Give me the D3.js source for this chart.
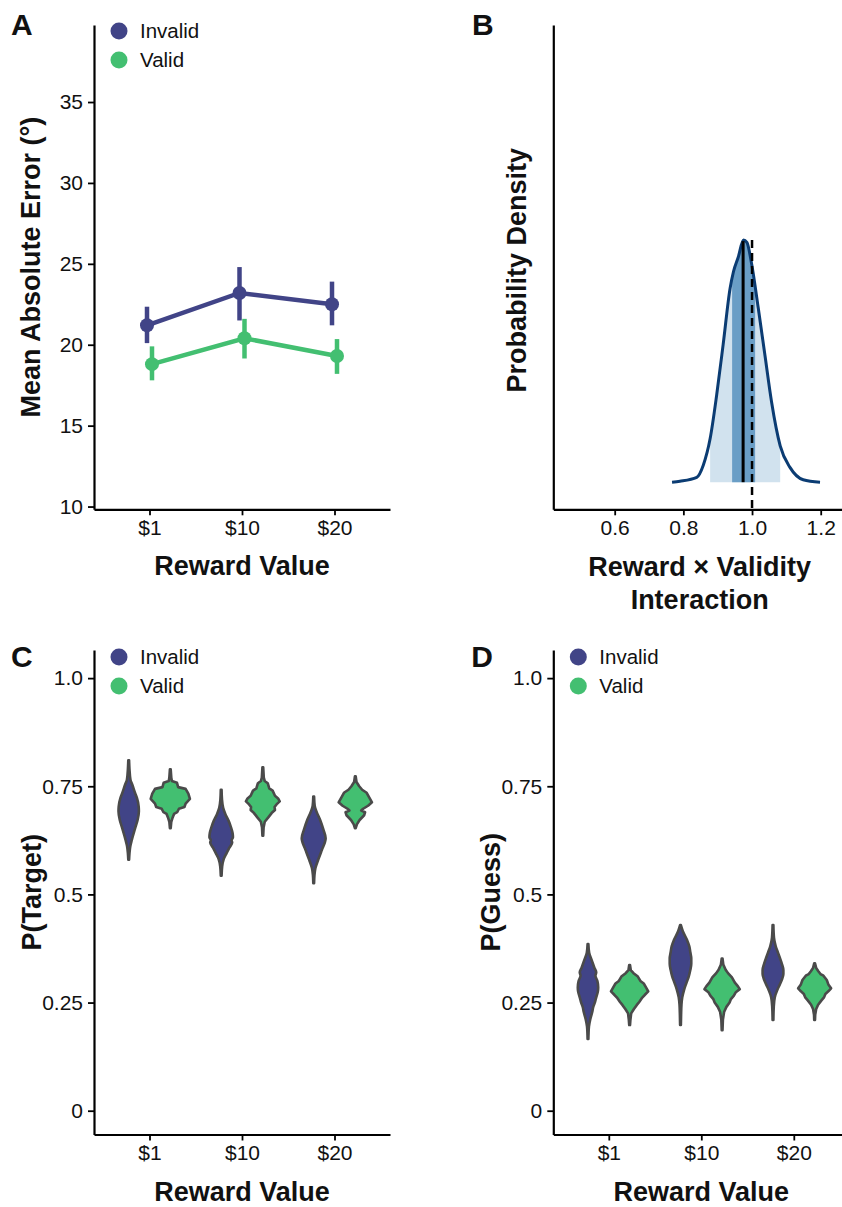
<!DOCTYPE html>
<html><head><meta charset="utf-8">
<script src="https://cdn.jsdelivr.net/npm/d3@7"></script>
<style>
body{margin:0;background:#fff}
svg{display:block}
text{font-family:"Liberation Sans",Arial,Helvetica,sans-serif;fill:#111}
</style>
</head><body>
<svg id="chart" width="842" height="1207"></svg>
<script>
// ---------------- DATA ----------------
const rewardLevels = ["$1", "$10", "$20"];
const validityLevels = ["Invalid", "Valid"];
const validityColors = ["#414487", "#43BF71"];

// Panel A: mean absolute error (deg)
const maeInvalidMean  = [21.2, 23.2, 22.5];
const maeInvalidLower = [20.1, 21.5, 21.2];
const maeInvalidUpper = [22.35, 24.8, 23.9];
const maeValidMean    = [18.8, 20.4, 19.3];
const maeValidLower   = [17.8, 19.15, 18.2];
const maeValidUpper   = [19.9, 21.6, 20.35];
const maeTicks = [10, 15, 20, 25, 30, 35];

// Panel B: posterior density of the interaction
const interactionGrid    = [0.767, 0.790, 0.839, 0.858, 0.878, 0.897, 0.916, 0.936, 0.946, 0.960, 0.975, 0.985, 0.999, 1.018, 1.038, 1.057, 1.082, 1.111, 1.149, 1.198];
const interactionDensity = [0.0, 0.004, 0.02, 0.07, 0.18, 0.36, 0.57, 0.80, 0.87, 0.93, 1.0, 0.99, 0.90, 0.72, 0.52, 0.33, 0.15, 0.06, 0.01, 0.0];
const interactionMedian = 0.974;
const interactionInner = [0.942, 1.009];
const interactionOuter = [0.878, 1.082];
const interactionNull = 1.0;
const interactionTicks = [0.6, 0.8, 1.0, 1.2];

// Panels C & D: violins, [value, relative density]
const probTicks = [0, 0.25, 0.5, 0.75, 1.0];
const probTickLabels = ["0", "0.25", "0.5", "0.75", "1.0"];

const pTargetInvalid1  = [[0.810,0.02],[0.790,0.04],[0.765,0.09],[0.754,0.18],[0.734,0.33],[0.723,0.42],[0.703,0.51],[0.692,0.52],[0.673,0.46],[0.653,0.33],[0.626,0.16],[0.611,0.08],[0.595,0.04],[0.580,0.02]];
const pTargetInvalid10 = [[0.742,0.02],[0.720,0.04],[0.700,0.10],[0.685,0.22],[0.670,0.38],[0.655,0.50],[0.642,0.58],[0.632,0.60],[0.625,0.53],[0.620,0.56],[0.608,0.42],[0.595,0.27],[0.582,0.13],[0.565,0.05],[0.543,0.02]];
const pTargetInvalid20 = [[0.726,0.02],[0.705,0.05],[0.692,0.14],[0.672,0.33],[0.649,0.50],[0.630,0.61],[0.622,0.58],[0.603,0.42],[0.580,0.23],[0.561,0.09],[0.545,0.04],[0.526,0.02]];
const pTargetValid1    = [[0.789,0.02],[0.770,0.05],[0.762,0.08],[0.758,0.34],[0.748,0.40],[0.744,0.78],[0.733,0.92],[0.721,1.00],[0.710,0.78],[0.702,0.72],[0.698,0.44],[0.690,0.35],[0.686,0.19],[0.678,0.12],[0.668,0.05],[0.653,0.02]];
const pTargetValid10   = [[0.794,0.02],[0.770,0.05],[0.762,0.10],[0.757,0.25],[0.745,0.33],[0.740,0.50],[0.728,0.62],[0.722,0.78],[0.715,0.86],[0.708,0.70],[0.702,0.60],[0.695,0.62],[0.688,0.45],[0.678,0.28],[0.668,0.10],[0.655,0.04],[0.636,0.02]];
const pTargetValid20   = [[0.773,0.02],[0.760,0.06],[0.750,0.20],[0.742,0.35],[0.735,0.58],[0.725,0.70],[0.713,0.85],[0.705,0.65],[0.698,0.40],[0.694,0.30],[0.690,0.50],[0.683,0.45],[0.672,0.22],[0.662,0.08],[0.653,0.02]];

const pGuessInvalid1   = [[0.385,0.02],[0.365,0.06],[0.348,0.19],[0.330,0.33],[0.320,0.42],[0.312,0.38],[0.300,0.48],[0.285,0.52],[0.275,0.50],[0.262,0.42],[0.250,0.35],[0.240,0.27],[0.229,0.22],[0.212,0.12],[0.195,0.05],[0.180,0.03],[0.166,0.02]];
const pGuessInvalid10  = [[0.429,0.02],[0.415,0.12],[0.395,0.33],[0.380,0.45],[0.367,0.50],[0.352,0.55],[0.340,0.55],[0.325,0.50],[0.310,0.42],[0.295,0.30],[0.279,0.18],[0.262,0.09],[0.245,0.05],[0.220,0.03],[0.198,0.02]];
const pGuessInvalid20  = [[0.429,0.02],[0.400,0.05],[0.380,0.14],[0.366,0.25],[0.356,0.33],[0.340,0.45],[0.325,0.53],[0.316,0.53],[0.305,0.47],[0.292,0.35],[0.279,0.22],[0.262,0.09],[0.240,0.04],[0.210,0.02]];
const pGuessValid1     = [[0.337,0.02],[0.325,0.06],[0.318,0.20],[0.310,0.42],[0.300,0.55],[0.294,0.72],[0.284,0.85],[0.276,0.95],[0.268,0.78],[0.260,0.62],[0.252,0.50],[0.244,0.36],[0.235,0.22],[0.225,0.08],[0.210,0.04],[0.198,0.02]];
const pGuessValid10    = [[0.352,0.02],[0.338,0.06],[0.326,0.18],[0.318,0.30],[0.308,0.50],[0.296,0.65],[0.288,0.80],[0.281,0.90],[0.274,0.70],[0.266,0.60],[0.258,0.45],[0.250,0.38],[0.240,0.22],[0.228,0.10],[0.210,0.04],[0.186,0.02]];
const pGuessValid20    = [[0.341,0.02],[0.330,0.08],[0.322,0.20],[0.316,0.30],[0.312,0.45],[0.302,0.62],[0.292,0.70],[0.283,0.84],[0.276,0.70],[0.270,0.55],[0.262,0.48],[0.255,0.35],[0.245,0.18],[0.235,0.08],[0.222,0.03],[0.210,0.02]];

// ---------------- DRAW ----------------
const svg = d3.select("#chart");
const FONT_TICK = 21, FONT_TITLE = 27, FONT_LETTER = 30, FONT_LEGEND = 20.5;

function styleAxis(g) {
  g.selectAll(".domain").attr("stroke", "#000").attr("stroke-width", 2.2);
  g.selectAll(".tick line").attr("stroke", "#000").attr("stroke-width", 1.8);
  g.selectAll(".tick text").attr("font-size", FONT_TICK).attr("fill", "#111")
    .style("font-family", '"Liberation Sans",Arial,Helvetica,sans-serif');
}

function panelLetter(txt, x, y) {
  svg.append("text").attr("x", x).attr("y", y).attr("font-size", FONT_LETTER)
    .attr("font-weight", "bold").text(txt);
}

function yTitle(txt, x, yc) {
  svg.append("text").attr("transform", `translate(${x},${yc}) rotate(-90)`)
    .attr("text-anchor", "middle").attr("font-size", FONT_TITLE).attr("font-weight", "bold").text(txt);
}
function xTitle(lines, xc, y, lh) {
  lines.forEach((t, i) => svg.append("text").attr("x", xc).attr("y", y + i * lh)
    .attr("text-anchor", "middle").attr("font-size", FONT_TITLE).attr("font-weight", "bold").text(t));
}
function legend(x, y) {
  validityLevels.forEach((g, i) => {
    svg.append("circle").attr("cx", x).attr("cy", y + i * 29).attr("r", 8.5).attr("fill", validityColors[i]);
    svg.append("text").attr("x", x + 21).attr("y", y + i * 29).attr("dy", "0.36em")
      .attr("font-size", FONT_LEGEND).text(g);
  });
}

// ---- Panel A ----
(function () {
  const L = 94, R = 390, T = 25, B = 509.3;
  const x = d3.scalePoint().domain(rewardLevels).range([L, R]).padding(0.6);
  const y = d3.scaleLinear().domain([9.83, 39.76]).range([B, T]);
  const dodge = d3.scaleBand().domain(validityLevels).range([-0.054 * x.step(), 0.054 * x.step()]);
  const cx = (r, g) => x(r) + dodge(g) + dodge.bandwidth() / 2;

  const ga = svg.append("g").attr("transform", `translate(0,${B})`)
    .call(d3.axisBottom(x).tickSize(6).tickSizeOuter(0).tickPadding(5));
  styleAxis(ga);
  const gy = svg.append("g").attr("transform", `translate(${L},0)`)
    .call(d3.axisLeft(y).tickValues(maeTicks).tickFormat(d3.format("d")).tickSize(6).tickSizeOuter(0).tickPadding(5));
  styleAxis(gy);

  const series = [
    {g: "Invalid", m: maeInvalidMean, lo: maeInvalidLower, hi: maeInvalidUpper, c: validityColors[0]},
    {g: "Valid", m: maeValidMean, lo: maeValidLower, hi: maeValidUpper, c: validityColors[1]}
  ];
  series.forEach(s => {
    const pts = rewardLevels.map((r, i) => ({r, m: s.m[i], lo: s.lo[i], hi: s.hi[i]}));
    svg.append("path").datum(pts).attr("fill", "none").attr("stroke", s.c).attr("stroke-width", 4.5)
      .attr("d", d3.line().x(d => cx(d.r, s.g)).y(d => y(d.m)));
    svg.selectAll(null).data(pts).enter().append("line")
      .attr("x1", d => cx(d.r, s.g)).attr("x2", d => cx(d.r, s.g))
      .attr("y1", d => y(d.lo)).attr("y2", d => y(d.hi))
      .attr("stroke", s.c).attr("stroke-width", 4.5);
    svg.selectAll(null).data(pts).enter().append("circle")
      .attr("cx", d => cx(d.r, s.g)).attr("cy", d => y(d.m)).attr("r", 7).attr("fill", s.c);
  });

  panelLetter("A", 11, 35);
  legend(119, 31);
  yTitle("Mean Absolute Error (°)", 40, (T + B) / 2);
  xTitle(["Reward Value"], (L + R) / 2, 575, 0);
})();

// ---- Panel B ----
(function () {
  const L = 553.3, R = 842, T = 25, B = 509.3;
  const x = d3.scaleLinear().domain([0.4212, 1.262]).range([L, R]);
  const y = d3.scaleLinear().domain([-0.112, 1.888]).range([B, T]);
  const pts = interactionGrid.map((v, i) => [v, interactionDensity[i]]);
  const area = d3.area().x(d => x(d[0])).y0(y(0)).y1(d => y(d[1])).curve(d3.curveMonotoneX);
  const line = d3.line().x(d => x(d[0])).y(d => y(d[1])).curve(d3.curveMonotoneX);

  const defs = svg.append("defs");
  [["ciOuter", interactionOuter], ["ciInner", interactionInner]].forEach(([id, ci]) => {
    defs.append("clipPath").attr("id", id).append("rect")
      .attr("x", x(ci[0])).attr("width", x(ci[1]) - x(ci[0])).attr("y", T).attr("height", B - T);
  });
  svg.append("path").datum(pts).attr("d", area).attr("fill", "#D1E2EE").attr("clip-path", "url(#ciOuter)");
  svg.append("path").datum(pts).attr("d", area).attr("fill", "#6A9EC6").attr("clip-path", "url(#ciInner)");
  svg.append("path").datum(pts).attr("d", line).attr("fill", "none").attr("stroke", "#0b3c73").attr("stroke-width", 3);

  const bis = d3.bisector(d => d).left;
  const densityAt = v => {
    const i = Math.max(1, Math.min(interactionGrid.length - 1, bis(interactionGrid, v)));
    const t = (v - interactionGrid[i - 1]) / (interactionGrid[i] - interactionGrid[i - 1]);
    return interactionDensity[i - 1] + t * (interactionDensity[i] - interactionDensity[i - 1]);
  };
  svg.append("line").attr("x1", x(interactionMedian)).attr("x2", x(interactionMedian))
    .attr("y1", y(0)).attr("y2", y(densityAt(interactionMedian))).attr("stroke", "#000").attr("stroke-width", 3);
  svg.append("line").attr("x1", x(interactionNull)).attr("x2", x(interactionNull))
    .attr("y1", y(d3.max(interactionDensity))).attr("y2", B).attr("stroke", "#000")
    .attr("stroke-width", 2.5).attr("stroke-dasharray", "8,5");

  const gx = svg.append("g").attr("transform", `translate(0,${B})`)
    .call(d3.axisBottom(x).tickValues(interactionTicks).tickFormat(d3.format(".1f")).tickSize(6).tickSizeOuter(0).tickPadding(5));
  styleAxis(gx);
  const gy = svg.append("g").attr("transform", `translate(${L},0)`)
    .call(d3.axisLeft(y).tickValues([]).tickSize(0).tickSizeOuter(0));
  styleAxis(gy);

  panelLetter("B", 472, 35);
  yTitle("Probability Density", 526, (T + B) / 2 + 3);
  xTitle(["Reward × Validity", "Interaction"], (L + 842) / 2 + 2, 576, 33);
})();

// ---- Panels C & D ----
function violinPanel(L, letter, title, invalidProfiles, validProfiles, titleX) {
  const R = L + 296, T = 650, B = 1134.5;
  const x = d3.scalePoint().domain(rewardLevels).range([L, R]).padding(0.6);
  const y = d3.scaleLinear().domain([-0.055, 1.065]).range([B, T]);
  const dodge = d3.scaleBand().domain(validityLevels).range([-0.45 * x.step(), 0.45 * x.step()]);
  const w = d3.scaleLinear().domain([0, 1]).range([0, dodge.bandwidth() / 2 - 1.2]);

  const gx = svg.append("g").attr("transform", `translate(0,${B})`)
    .call(d3.axisBottom(x).tickSize(6).tickSizeOuter(0).tickPadding(5));
  styleAxis(gx);
  const gy = svg.append("g").attr("transform", `translate(${L},0)`)
    .call(d3.axisLeft(y).tickValues(probTicks).tickFormat((d, i) => probTickLabels[i]).tickSize(6).tickSizeOuter(0).tickPadding(5));
  styleAxis(gy);

  const profs = [invalidProfiles, validProfiles];
  validityLevels.forEach((g, gi) => {
    rewardLevels.forEach((r, ri) => {
      const c = x(r) + dodge(g) + dodge.bandwidth() / 2;
      const area = d3.area().y(d => y(d[0])).x0(d => c - w(d[1])).x1(d => c + w(d[1]))
        .curve(gi === 0 ? d3.curveMonotoneY : d3.curveLinear);
      const data = profs[gi][ri].slice().sort((a, b) => b[0] - a[0]);
      svg.append("path").datum(data).attr("d", area).attr("fill", validityColors[gi])
        .attr("stroke", "#4a4a4a").attr("stroke-width", 2.6).attr("stroke-linejoin", "round");
    });
  });

  panelLetter(letter, L - 83 + (letter === "D" ? 1 : 0), 667);
  legend(L + 25, 657);
  yTitle(title, titleX, (T + B) / 2);
  xTitle(["Reward Value"], (L + R) / 2, 1201, 0);
}
violinPanel(94, "C", "P(Target)", [pTargetInvalid1, pTargetInvalid10, pTargetInvalid20], [pTargetValid1, pTargetValid10, pTargetValid20], 41);
violinPanel(553.3, "D", "P(Guess)", [pGuessInvalid1, pGuessInvalid10, pGuessInvalid20], [pGuessValid1, pGuessValid10, pGuessValid20], 500);
</script>
</body></html>
